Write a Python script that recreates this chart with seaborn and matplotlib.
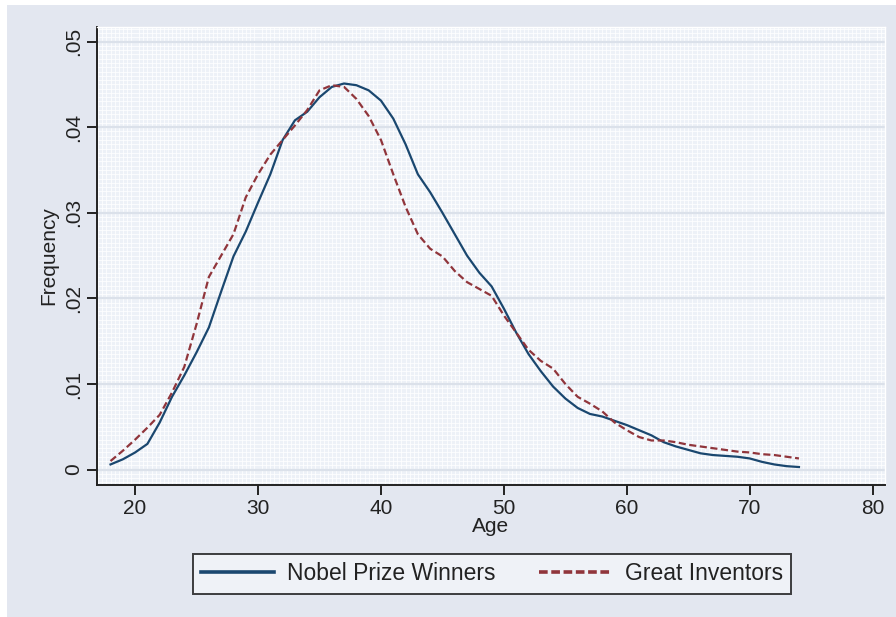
import seaborn as sns
import matplotlib.pyplot as plt
import matplotlib.ticker as mticker
from matplotlib.patches import Rectangle
import pandas as pd

# Age grid shared by both density curves
ages = list(range(18, 75))

nobel = [0.0006, 0.0012, 0.0020, 0.0030, 0.0055, 0.0085, 0.0110, 0.0137, 0.0166, 0.0208,
         0.0249, 0.0278, 0.0312, 0.0345, 0.0385, 0.0408, 0.0418, 0.0435, 0.0447, 0.0451,
         0.0449, 0.0443, 0.0431, 0.0410, 0.0380, 0.0345, 0.0324, 0.0300, 0.0275, 0.0250,
         0.0230, 0.0214, 0.0188, 0.0160, 0.0135, 0.0115, 0.0097, 0.0083, 0.0072, 0.0065,
         0.0062, 0.0057, 0.0052, 0.0046, 0.0040, 0.0032, 0.0027, 0.0023, 0.0019, 0.0017,
         0.0016, 0.0015, 0.0013, 0.0009, 0.0006, 0.0004, 0.0003]

inventors = [0.0010, 0.0022, 0.0035, 0.0049, 0.0064, 0.0090, 0.0120, 0.0170, 0.0225, 0.0250,
             0.0275, 0.0318, 0.0345, 0.0368, 0.0385, 0.0402, 0.0420, 0.0443, 0.0449, 0.0447,
             0.0433, 0.0413, 0.0385, 0.0345, 0.0307, 0.0275, 0.0258, 0.0249, 0.0232, 0.0219,
             0.0211, 0.0203, 0.0180, 0.0160, 0.0140, 0.0127, 0.0118, 0.0100, 0.0085, 0.0077,
             0.0068, 0.0055, 0.0046, 0.0038, 0.0034, 0.0034, 0.0032, 0.0029, 0.0027, 0.0025,
             0.0023, 0.0021, 0.0020, 0.0018, 0.0017, 0.0015, 0.0013]

groups = ['Nobel Prize Winners', 'Great Inventors']
x_ticks = [20, 30, 40, 50, 60, 70, 80]
y_ticks = [0, 0.01, 0.02, 0.03, 0.04, 0.05]
y_labels = ['0', '.01', '.02', '.03', '.04', '.05']

df = pd.concat([
    pd.DataFrame({'Age': ages, 'Frequency': nobel, 'Group': groups[0]}),
    pd.DataFrame({'Age': ages, 'Frequency': inventors, 'Group': groups[1]}),
])

plt.rcParams['font.family'] = ['Liberation Sans', 'DejaVu Sans']
FS = 15

fig = plt.figure(figsize=(8.96, 6.17), dpi=100, facecolor='white')
# grey graph region (Stata-like), with thin white margin at top/left
fig.patches.append(Rectangle((7 / 896, 0), 1, 1 - 5 / 617, transform=fig.transFigure,
                             facecolor='#e3e7f0', edgecolor='none', zorder=-10))

ax = fig.add_axes([97 / 896, 1 - 485 / 617, (885 - 97) / 896, (485 - 27) / 617])
ax.set_facecolor('#edf1f7')

sns.lineplot(data=df, x='Age', y='Frequency', hue='Group', style='Group',
             palette={groups[0]: '#1a476f', groups[1]: '#90353b'},
             dashes={groups[0]: '', groups[1]: (3.2, 1.6)},
             linewidth=1.6, ax=ax, legend=False, zorder=5)

ax.set_xlim(16.9, 81.0)
ax.set_ylim(-0.0018, 0.0517)
ax.set_xticks(x_ticks)
ax.set_yticks(y_ticks)
ax.set_yticklabels(y_labels, rotation=90, va='center')

# fine background texture + major horizontal grid
ax.xaxis.set_minor_locator(mticker.MultipleLocator(1 / 3))
ax.yaxis.set_minor_locator(mticker.MultipleLocator(0.0005))
ax.grid(which='minor', color='white', linewidth=0.6, alpha=0.9)
ax.grid(which='major', axis='y', color='#dbe1ea', linewidth=1.6)
ax.set_axisbelow(True)
ax.tick_params(which='minor', length=0)
ax.tick_params(which='major', direction='out', length=7, width=1.4, labelsize=FS,
               color='#222222', labelcolor='#222222', pad=3)

for side in ['top', 'right']:
    ax.spines[side].set_color('white')
    ax.spines[side].set_linewidth(1.0)
for side in ['left', 'bottom']:
    ax.spines[side].set_color('#222222')
    ax.spines[side].set_linewidth(1.4)

ax.set_xlabel('Age', fontsize=FS, labelpad=-1, color='#222222')
ax.set_ylabel('Frequency', fontsize=FS, labelpad=4, color='#222222')

handles = [plt.Line2D([], [], color='#1a476f', linewidth=2.6),
           plt.Line2D([], [], color='#90353b', linewidth=2.6, linestyle=(0, (2.4, 1.0)))]
leg = fig.legend(handles, groups, loc='center', bbox_to_anchor=(492 / 896, 1 - 574 / 617),
                 ncol=2, fontsize=16.5, frameon=True, fancybox=False, handlelength=3.2,
                 columnspacing=1.9, handletextpad=0.55, borderpad=0.35, borderaxespad=0)
leg.get_frame().set_edgecolor('#111111')
leg.get_frame().set_linewidth(1.4)
leg.get_frame().set_facecolor('#f3f5f9')
for t in leg.get_texts():
    t.set_color('#222222')

fig.savefig('out.png', dpi=100, facecolor=fig.get_facecolor())
